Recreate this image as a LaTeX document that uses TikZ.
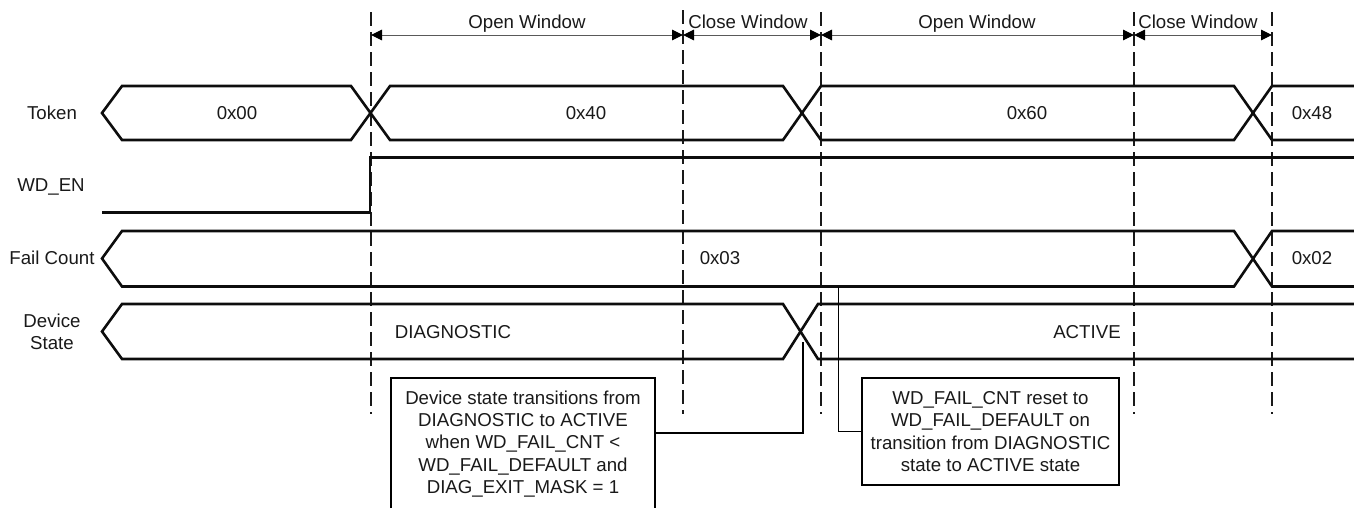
\documentclass[tikz,border=0pt]{standalone}
\usepackage{fontspec}
\setmainfont{Liberation Sans}
\usetikzlibrary{arrows.meta}
\tikzset{
  sig/.style={line width=1.95pt,line join=miter,black!95},
  guide/.style={line width=0.85pt,dash pattern=on 10.5pt off 4.5pt,black!90},
  span/.style={line width=0.75pt,black!65,{Triangle[length=8.25pt,width=8pt,black]}-{Triangle[length=8.25pt,width=8pt,black]}},
  lbl/.style={font=\fontsize{14}{16.8}\selectfont,inner sep=0pt,align=center,text=black!90,text height=10pt,text depth=0pt},
  twoline/.style={font=\fontsize{14}{16.8}\selectfont,inner sep=0pt,align=center,text=black!90},
  notebox/.style={line width=1.1pt},
  leader/.style={line width=1.05pt},
  note/.style={font=\fontsize{14}{16.8}\selectfont,inner sep=0pt,align=center,text=black!90}
}
\begin{document}
\begin{tikzpicture}[x=0.75pt,y=-0.75pt]
\useasboundingbox (0,0) rectangle (1354,508);
% guides
\coordinate (g1t) at (371,12); \coordinate (g1b) at (371,414);
\coordinate (g2t) at (683,10); \coordinate (g2b) at (683,414);
\coordinate (g3t) at (821,12); \coordinate (g3b) at (821,414);
\coordinate (g4t) at (1134,12); \coordinate (g4b) at (1134,414);
\coordinate (g5t) at (1272,12); \coordinate (g5b) at (1272,414);
\foreach \n in {1,...,5} {\draw[guide] (g\n t) -- (g\n b);}
% spans
\coordinate (s1) at (371,35); \coordinate (s2) at (683,35); \coordinate (s3) at (821,35);
\coordinate (s4) at (1134,35); \coordinate (s5) at (1272,35);
\draw[span] (s1) -- (s2);
\draw[span] (s2) -- (s3);
\draw[span] (s3) -- (s4);
\draw[span] (s4) -- (s5);
\node[lbl] (w1) at (527,22) {Open Window};
\node[lbl] (w2) at (748,22) {Close Window};
\node[lbl] (w3) at (977,22) {Open Window};
\node[lbl] (w4) at (1198,22) {Close Window};
% Token
\draw[sig] (1354,86) -- (1272,86) -- (1234,140) -- (821,140) -- (783,86) -- (390,86) -- (351,140) -- (122,140) -- (102,113) -- (122,86) -- (351,86) -- (390,140) -- (783,140) -- (821,86) -- (1234,86) -- (1272,140) -- (1354,140);
% WD_EN
\draw[sig] (102,212.5) -- (370,212.5) -- (370,157.5) -- (1354,157.5);
% Fail count
\draw[sig] (1354,231) -- (1272,231) -- (1234,286.5) -- (122,286.5) -- (102,258.5) -- (122,231) -- (1234,231) -- (1272,286.5) -- (1354,286.5);
% Device state
\draw[sig] (1354,304) -- (818,304) -- (783,359) -- (122,359) -- (102,331.5) -- (122,304) -- (783,304) -- (818,359) -- (1354,359);
% labels
\node[lbl] (tok) at (52,113) {Token};
\node[lbl] (wden) at (51,185) {WD\_EN};
\node[lbl] (fc) at (52,258) {Fail Count};
\node[twoline] (ds) at (52,332) {Device\\State};
\node[lbl] (v1) at (237,113) {0x00};
\node[lbl] (v2) at (586,113) {0x40};
\node[lbl] (v3) at (1027,113) {0x60};
\node[lbl] (v4) at (1312,113) {0x48};
\node[lbl] (v5) at (720,258) {0x03};
\node[lbl] (v6) at (1312,258) {0x02};
\node[lbl] (v7) at (453,332) {DIAGNOSTIC};
\node[lbl] (v8) at (1087,332) {ACTIVE};
% note 1 (runs off the bottom edge)
\coordinate (bl) at (391,508); \coordinate (br) at (655,508);
\draw[notebox] (bl) -- (391,378) -- (655,378) -- (br);
\node[note] (n1) at (523,444) {Device state transitions from\\DIAGNOSTIC to ACTIVE\\when WD\_FAIL\_CNT <\\WD\_FAIL\_DEFAULT and\\DIAG\_EXIT\_MASK = 1};
\coordinate (c1a) at (655,433); \coordinate (c1b) at (803,433); \coordinate (c1c) at (803,342);
\draw[leader] (c1a) -- (c1b) -- (c1c);
% note 2
\node[note,draw,notebox,minimum width=192.75pt,minimum height=80.25pt] (n2) at (990.5,431.5) {WD\_FAIL\_CNT reset to\\WD\_FAIL\_DEFAULT on\\transition from DIAGNOSTIC\\state to ACTIVE state};
\coordinate (c2a) at (838.5,431.5); \coordinate (c2b) at (838.5,286.5);
\draw[leader] (n2.west) -- (c2a) -- (c2b);
\end{tikzpicture}
\end{document}
